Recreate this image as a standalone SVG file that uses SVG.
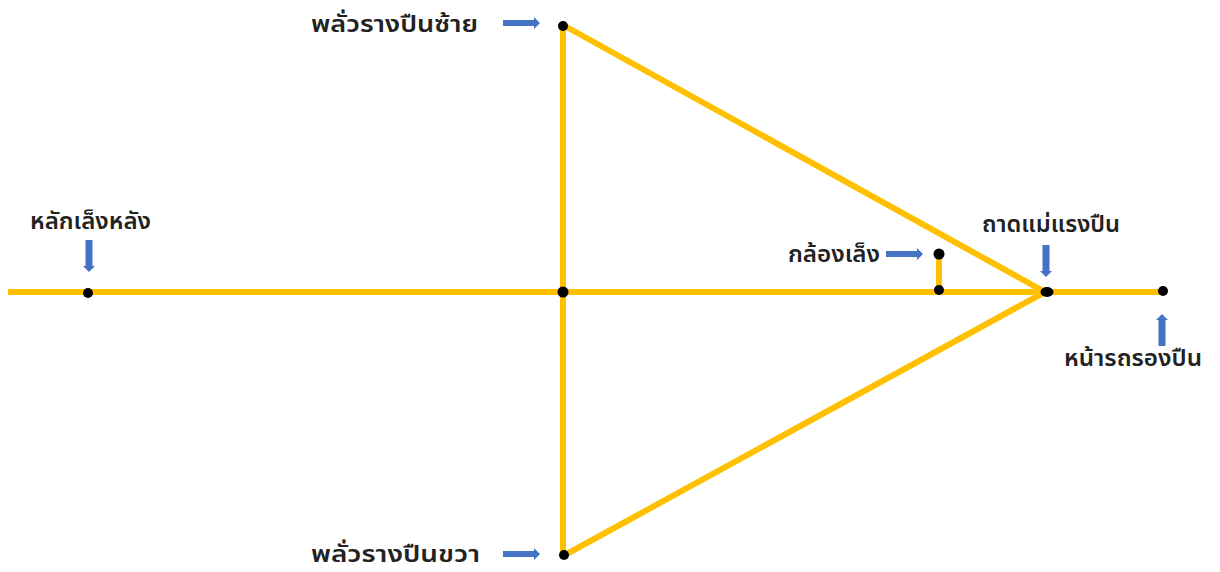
<svg xmlns="http://www.w3.org/2000/svg" width="1220" height="572" viewBox="0 0 1220 572">
<style>
.ln{stroke:#FFC000;stroke-width:6;fill:none;stroke-linecap:butt}
.dot{fill:#000}
.ar{fill:#4472C4}
.lb{font-family:"Noto Sans Thai","Leelawadee UI","DejaVu Sans","Noto Sans",sans-serif;font-size:23px;font-weight:600;fill:#222}
</style>
<defs>
<path id="arrH" d="M0,-3 H31 V-6 L37,0 L31,6 V3 H0 Z"/>
<path id="arrV" d="M0,-3.5 H26 V-6 L32,0 L26,6 V3.5 H0 Z"/>
</defs>
<g id="connectors">
<line class="ln" x1="8" y1="292" x2="1163" y2="292"/>
<line class="ln" x1="563" y1="25" x2="563" y2="556"/>
<line class="ln" x1="563" y1="25" x2="1045" y2="292"/>
<line class="ln" x1="563" y1="556" x2="1045" y2="292"/>
<line class="ln" x1="939" y1="254" x2="939" y2="291"/>
<use class="ar" href="#arrH" transform="translate(503,23)"/>
<use class="ar" href="#arrH" transform="translate(503,554)"/>
<use class="ar" href="#arrH" transform="translate(886,254)"/>
<use class="ar" href="#arrV" transform="translate(89,240) rotate(90)"/>
<use class="ar" href="#arrV" transform="translate(1046,245) rotate(90)"/>
<use class="ar" href="#arrV" transform="translate(1162,346) rotate(-90)"/>
</g>
<g id="n-rear-sight"><circle class="dot" cx="88" cy="293" r="5"/><text class="lb" x="30" y="229" textLength="121" lengthAdjust="spacingAndGlyphs">หลักเล็งหลัง</text></g>
<g id="n-center"><circle class="dot" cx="563" cy="292" r="5.5"/></g>
<g id="n-left-trail"><circle class="dot" cx="563" cy="26" r="5"/><text class="lb" x="311" y="32" textLength="167" lengthAdjust="spacingAndGlyphs">พลั่วรางปืนซ้าย</text></g>
<g id="n-right-trail"><circle class="dot" cx="564" cy="555" r="5"/><text class="lb" x="311" y="562" textLength="169" lengthAdjust="spacingAndGlyphs">พลั่วรางปืนขวา</text></g>
<g id="n-sight"><circle class="dot" cx="939" cy="254" r="5.5"/><circle class="dot" cx="939" cy="290" r="5"/><text class="lb" x="788" y="262" textLength="92" lengthAdjust="spacingAndGlyphs">กล้องเล็ง</text></g>
<g id="n-jack"><ellipse class="dot" cx="1047" cy="292" rx="6.5" ry="5"/><text class="lb" x="982" y="232" textLength="138" lengthAdjust="spacingAndGlyphs">ถาดแม่แรงปืน</text></g>
<g id="n-limber"><circle class="dot" cx="1163" cy="291" r="5"/><text class="lb" x="1064" y="366" textLength="138" lengthAdjust="spacingAndGlyphs">หน้ารถรองปืน</text></g>
</svg>
